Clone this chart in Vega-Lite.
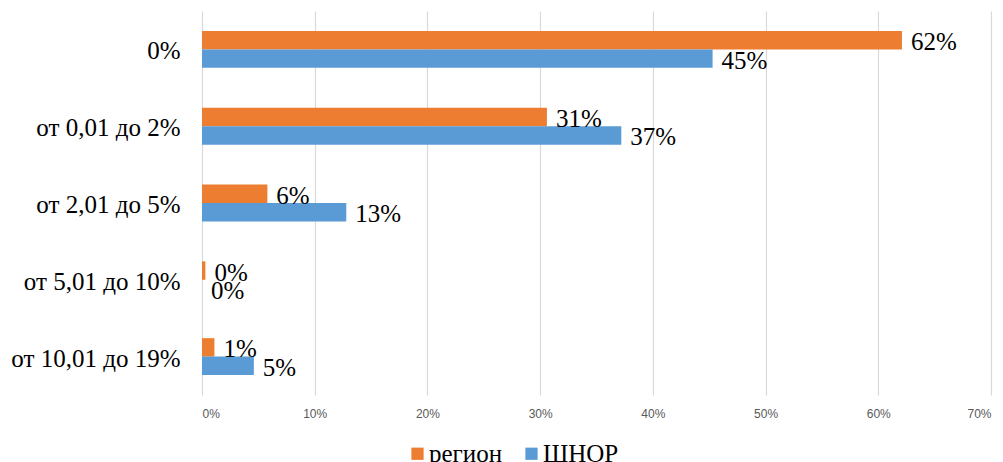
{
  "$schema": "https://vega.github.io/schema/vega-lite/v6.json",
  "autosize": {"type": "none"},
  "padding": {"left": 202, "top": 11, "right": 12, "bottom": 67},
  "width": 789,
  "height": 384,
  "background": "white",
  "data": {
    "values": [
      {"category": "0%", "series": "регион", "value": 0.621},
      {"category": "0%", "series": "ШНОР", "value": 0.453},
      {"category": "от 0,01 до 2%", "series": "регион", "value": 0.306},
      {"category": "от 0,01 до 2%", "series": "ШНОР", "value": 0.372},
      {"category": "от 2,01 до 5%", "series": "регион", "value": 0.058},
      {"category": "от 2,01 до 5%", "series": "ШНОР", "value": 0.128},
      {"category": "от 5,01 до 10%", "series": "регион", "value": 0.003},
      {"category": "от 5,01 до 10%", "series": "ШНОР", "value": 0.0},
      {"category": "от 10,01 до 19%", "series": "регион", "value": 0.011},
      {"category": "от 10,01 до 19%", "series": "ШНОР", "value": 0.046}
    ]
  },
  "encoding": {
    "y": {
      "field": "category",
      "type": "nominal",
      "sort": null,
      "scale": {"paddingInner": 0.52, "paddingOuter": 0.26},
      "axis": {
        "title": null,
        "domain": false,
        "ticks": false,
        "labelFont": "Liberation Serif",
        "labelFontSize": 25,
        "labelColor": "#000000",
        "labelPadding": 22,
        "labelOffset": 2,
        "labelLimit": 300
      }
    },
    "yOffset": {
      "field": "series",
      "type": "nominal",
      "sort": ["регион", "ШНОР"],
      "scale": {"paddingInner": 0, "paddingOuter": 0}
    },
    "x": {
      "field": "value",
      "type": "quantitative",
      "scale": {"domain": [0, 0.7], "nice": false},
      "axis": {
        "title": null,
        "format": ".0%",
        "values": [0, 0.1, 0.2, 0.3, 0.4, 0.5, 0.6, 0.7],
        "domain": false,
        "ticks": false,
        "grid": true,
        "gridColor": "#d9d9d9",
        "gridWidth": 1.2,
        "labelColor": "#595959",
        "labelFont": "Liberation Sans",
        "labelFontSize": 12,
        "labelPadding": 13
      }
    }
  },
  "layer": [
    {
      "mark": {"type": "bar", "cornerRadius": 0},
      "encoding": {
        "color": {
          "field": "series",
          "type": "nominal",
          "sort": ["регион", "ШНОР"],
          "scale": {"domain": ["регион", "ШНОР"], "range": ["#ED7D31", "#5B9BD5"]},
          "legend": {
            "title": null,
            "orient": "none",
            "direction": "horizontal",
            "legendX": 203,
            "legendY": 430,
            "symbolType": "square",
            "symbolSize": 150,
            "symbolStrokeWidth": 0,
            "labelFont": "Liberation Serif",
            "labelFontSize": 25,
            "labelColor": "#000000",
            "labelOffset": -1,
            "columnPadding": 16
          }
        }
      }
    },
    {
      "mark": {
        "type": "text",
        "align": "left",
        "baseline": "middle",
        "dx": 9,
        "dy": 2,
        "font": "Liberation Serif",
        "fontSize": 25,
        "color": "#000000"
      },
      "encoding": {
        "text": {"field": "value", "type": "quantitative", "format": ".0%"}
      }
    }
  ],
  "config": {
    "view": {"stroke": null}
  }
}
